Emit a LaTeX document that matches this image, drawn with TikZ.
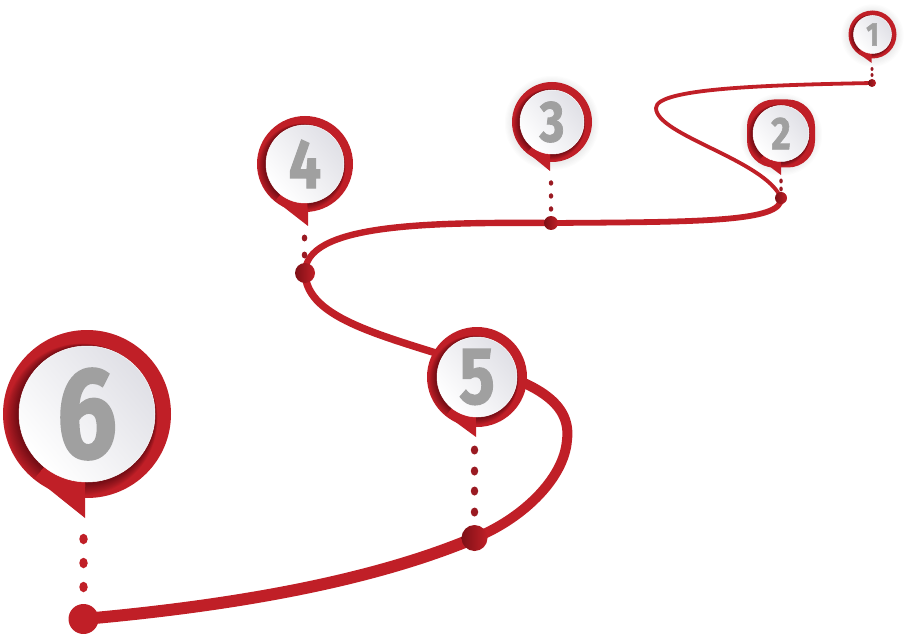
\documentclass[tikz,border=0pt]{standalone}
\usepackage{fontspec}
\newfontfamily\digitfont{Fira Sans}[BoldFeatures={FakeBold=1.6}]
\definecolor{pinred}{HTML}{C01F27}
\definecolor{darkred}{HTML}{7E1016}
\definecolor{dotred}{HTML}{9A1A22}
\definecolor{digitgrey}{HTML}{A0A0A0}
\definecolor{faceend}{HTML}{E0E0E6}
\tikzset{
  facedisc/.style={circle,inner sep=0pt,top color=faceend,bottom color=white,shading angle=-50,draw=white,line width=.5pt},
  digitmark/.style={inner sep=0pt,text=digitgrey,xscale=.82,transform shape},
  routeline/.style={draw=pinred,line cap=round},
  gradientdot/.style={circle,inner sep=0pt,left color=darkred,right color=pinred},
  smalldot/.style={ellipse,inner sep=0pt,fill=dotred}
}
\usetikzlibrary{shapes.geometric}
% name, cx, cy, R, r, tipx, tipy, digit, font size; \pincorner = corner radius of the outline
\newcommand\mappin[9]{%
  \begin{scope}
    \fill[pinred,rounded corners=\pincorner bp] (#2-#4,#3-#4) rectangle (#2+#4,#3+#4);
    \fill[pinred] (#2-0.62*#4,#3+0.76*#4) -- (#6,#7) -- (#6,#3+0.99*#4) -- (#2,#3) -- cycle;
    \begin{scope}
      \clip (#2,#3) circle[radius=#4-0.3] (#2-0.62*#4,#3+0.76*#4) -- (#6,#7) -- (#6,#3+0.99*#4) -- (#2,#3) -- cycle;
      \foreach \k in {0.05,0.10,...,1.0}{
        \fill[black,opacity=.022] (#2-0.07*#4*\k,#3+0.07*#4*\k) circle[radius=#5+0.1*#4*\k];
      }
    \end{scope}
    \node[facedisc,minimum size=#5*2bp] (p#1) at (#2,#3) {};
    \node[digitmark] (n#1) at (#2,#3) {\digitfont\bfseries\fontsize{#9}{#9}\selectfont #8};
  \end{scope}%
}
\newcommand\softglow[3]{%
  \foreach \k in {1,...,6}{\fill[black,opacity=.012] (#1,#2+1) circle[radius=#3+\k*1.2];}%
}
\begin{document}
\begin{tikzpicture}[x=1bp,y=-1bp]
\useasboundingbox (0,0) rectangle (906,634);
% stops
\coordinate (s1) at (872,83);
\coordinate (s2) at (781,198);
\coordinate (s3) at (551,223);
\coordinate (s4) at (305,273);
\coordinate (s5) at (474.5,538);
\coordinate (s6) at (83.5,619);
\coordinate (under5) at (477,366);
% route
\draw[routeline,line width=3.8bp] (s1) .. controls (770,85) and (656,88) .. (656,108)
   .. controls (656,135) and (765,160) .. (s2);
\draw[routeline,line width=5.8bp] (s2) .. controls (783,222) and (700,222) .. (s3);
\draw[routeline,line width=6.4bp] (s3) .. controls (420,222) and (305,225) .. (s4);
\draw[routeline,line width=7.4bp] (s4) .. controls (307,320) and (385,336) .. (under5);
\draw[routeline,line width=10bp] (under5) .. controls (530,382) and (572,400) .. (567,440)
   .. controls (564,480) and (520,520) .. (s5);
\draw[routeline,line width=12bp] (s5) .. controls (370,582) and (230,606) .. (s6);
% glows
\softglow{872.5}{34.5}{24}
\softglow{781}{133.5}{34}
\softglow{552}{122}{40}
% pins
\def\pincorner{24}
\mappin{1}{872.5}{34.5}{24}{19}{871.7}{63}{1}{33}
\def\pincorner{27}
\mappin{2}{781}{133.5}{34}{28}{781}{175}{2}{46}
\def\pincorner{40}
\mappin{3}{552}{122}{40}{32}{550}{171}{3}{58}
\def\pincorner{48}
\mappin{4}{305}{164}{48}{39}{308}{226}{4}{70}
\def\pincorner{50}
\mappin{5}{477}{377}{50}{40}{476}{437}{5}{81}
\def\pincorner{84}
\mappin{6}{87}{414}{84}{68}{85}{518}{6}{130}
% small dots
\foreach \y [count=\i] in {69,75}{\node[smalldot,minimum width=3bp,minimum height=4bp] (a\i) at (872,\y) {};}
\foreach \y [count=\i] in {181,189}{\node[smalldot,minimum width=3.5bp,minimum height=5bp] (b\i) at (781,\y) {};}
\foreach \y [count=\i] in {183,196,209}{\node[smalldot,minimum width=4.5bp,minimum height=5.5bp] (c\i) at (551,\y) {};}
\foreach \y [count=\i] in {238,255}{\node[smalldot,minimum width=5.5bp,minimum height=7bp] (e\i) at (304.5,\y) {};}
\foreach \y [count=\i] in {450,471,491,512}{\node[smalldot,minimum width=7.5bp,minimum height=9bp] (f\i) at (474.5,\y) {};}
\foreach \y [count=\i] in {539,563,587}{\node[smalldot,fill=pinred,minimum width=8.5bp,minimum height=10.5bp] (g\i) at (83.5,\y) {};}
% stop dots
\node[gradientdot,minimum size=8bp] (d1) at (s1) {};
\node[gradientdot,minimum size=12bp] (d2) at (s2) {};
\node[gradientdot,minimum size=14bp] (d3) at (s3) {};
\node[gradientdot,minimum size=20bp] (d4) at (s4) {};
\node[gradientdot,minimum size=26bp] (d5) at (s5) {};
\node[circle,inner sep=0pt,fill=pinred,minimum size=30bp] (d6) at (s6) {};
\end{tikzpicture}
\end{document}
